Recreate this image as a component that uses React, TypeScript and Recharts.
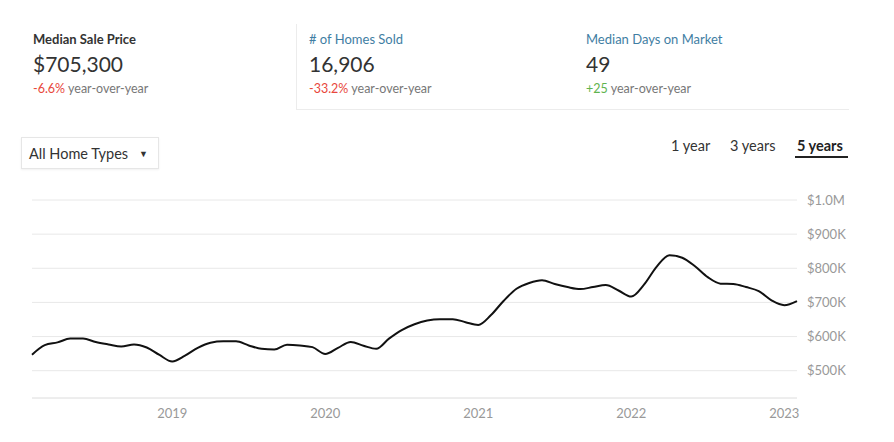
import React from "react";
import {
  LineChart,
  Line,
  XAxis,
  YAxis,
  CartesianGrid,
} from "recharts";

// monthly median sale price, Feb 2018 .. Feb 2023 (in $K)
const months = [
  "2018-02", "2018-03", "2018-04", "2018-05", "2018-06", "2018-07", "2018-08", "2018-09", "2018-10", "2018-11", "2018-12",
  "2019-01", "2019-02", "2019-03", "2019-04", "2019-05", "2019-06", "2019-07", "2019-08", "2019-09", "2019-10", "2019-11", "2019-12",
  "2020-01", "2020-02", "2020-03", "2020-04", "2020-05", "2020-06", "2020-07", "2020-08", "2020-09", "2020-10", "2020-11", "2020-12",
  "2021-01", "2021-02", "2021-03", "2021-04", "2021-05", "2021-06", "2021-07", "2021-08", "2021-09", "2021-10", "2021-11", "2021-12",
  "2022-01", "2022-02", "2022-03", "2022-04", "2022-05", "2022-06", "2022-07", "2022-08", "2022-09", "2022-10", "2022-11", "2022-12",
  "2023-01", "2023-02",
];

const medianPriceK = [
  547, 575, 583, 594, 594, 584, 577, 571, 577, 568, 546,
  527, 544, 567, 582, 586, 586, 574, 564, 562, 576, 574, 569,
  549, 567, 584, 573, 564, 594, 619, 636, 647, 651, 651, 642,
  634, 663, 705, 740, 757, 765, 754, 745, 739, 745, 751, 735,
  717, 752, 805, 838, 831, 806, 774, 755, 754, 745, 733, 706,
  692, 704,
];

const yearLabels = ["2019", "2020", "2021", "2022", "2023"];
const priceTicks = [500000, 600000, 700000, 800000, 900000, 1000000];

const chartData = months.map((m, i) => ({
  t: i,
  month: m,
  price: medianPriceK[i] * 1000,
}));

const yearTickIdx = yearLabels.map((y) => months.indexOf(`${y}-01`));

const fmtPrice = (v: number) =>
  v >= 1000000 ? `$${(v / 1000000).toFixed(1)}M` : `$${v / 1000}K`;

const fmtYear = (v: number) => months[v]?.slice(0, 4) ?? "";

const FONT = "Lato, 'Open Sans', sans-serif";
const RED = "#e8473c";
const BLUE = "#3f7ea3";
const GREEN = "#5fb44f";

function Stat({
  x,
  title,
  titleColor,
  titleWeight,
  value,
  change,
  changeColor,
}: {
  x: number;
  title: string;
  titleColor: string;
  titleWeight: number;
  value: string;
  change: string;
  changeColor: string;
}) {
  return (
    <div style={{ position: "absolute", left: x, top: 30 }}>
      <div style={{ fontSize: 13, color: titleColor, fontWeight: titleWeight, lineHeight: "18px" }}>
        {title}
      </div>
      <div style={{ fontSize: 21, color: "#333", marginTop: 3, lineHeight: "26px" }}>{value}</div>
      <div style={{ fontSize: 12.5, color: "#777", marginTop: 4, lineHeight: "16px" }}>
        <span style={{ color: changeColor }}>{change}</span> year-over-year
      </div>
    </div>
  );
}

export default function App() {
  return (
    <div
      style={{
        position: "absolute",
        left: 0,
        top: 0,
        width: 894,
        height: 442,
        background: "#fff",
        fontFamily: FONT,
        overflow: "hidden",
      }}
    >
      {/* box around the 2nd and 3rd stats */}
      <div
        style={{
          position: "absolute",
          left: 296,
          top: 24,
          width: 552,
          height: 85,
          borderLeft: "1px solid #ececec",
          borderBottom: "1px solid #ececec",
        }}
      />
      <Stat x={33} title="Median Sale Price" titleColor="#333" titleWeight={700} value="$705,300" change="-6.6%" changeColor={RED} />
      <Stat x={309} title="# of Homes Sold" titleColor={BLUE} titleWeight={400} value="16,906" change="-33.2%" changeColor={RED} />
      <Stat x={586} title="Median Days on Market" titleColor={BLUE} titleWeight={400} value="49" change="+25" changeColor={GREEN} />

      {/* home type dropdown */}
      <div
        style={{
          position: "absolute",
          left: 21,
          top: 137,
          width: 138,
          height: 32,
          border: "1px solid #e6e6e6",
          boxShadow: "0 1px 2px rgba(0,0,0,0.06)",
          boxSizing: "border-box",
          fontSize: 14.5,
          color: "#333",
          lineHeight: "31px",
          paddingLeft: 7,
        }}
      >
        All Home Types
        <span style={{ position: "absolute", left: 117, top: 0, fontSize: 9, color: "#333" }}>▼</span>
      </div>

      {/* period tabs */}
      <div style={{ position: "absolute", left: 671, top: 137, fontSize: 14.5, color: "#333" }}>1 year</div>
      <div style={{ position: "absolute", left: 730, top: 137, fontSize: 14.5, color: "#333" }}>3 years</div>
      <div style={{ position: "absolute", left: 797, top: 137, fontSize: 14.5, color: "#222", fontWeight: 700 }}>5 years</div>
      <div style={{ position: "absolute", left: 795, top: 156, width: 53, height: 2, background: "#222" }} />

      <div style={{ position: "absolute", left: 0, top: 180 }}>
        <LineChart
          width={894}
          height={262}
          data={chartData}
          margin={{ top: 20, right: 37, bottom: 0, left: 32 }}
        >
          <CartesianGrid vertical={false} stroke="#e8e8e8" />
          <XAxis
            dataKey="t"
            type="number"
            domain={[0, 60]}
            ticks={yearTickIdx}
            tickFormatter={fmtYear}
            axisLine={{ stroke: "#e8e8e8" }}
            tickLine={false}
            tickSize={0}
            tickMargin={11}
            height={44}
            tick={{ fontSize: 13, fill: "#999", fontFamily: FONT }}
          />
          <YAxis
            orientation="right"
            domain={[420000, 1000000]}
            ticks={priceTicks}
            tickFormatter={fmtPrice}
            axisLine={false}
            tickLine={false}
            tickSize={0}
            tickMargin={10}
            width={60}
            tick={{ fontSize: 13, fill: "#999", fontFamily: FONT, textAnchor: "start" }}
          />
          <Line
            dataKey="price"
            type="monotone"
            stroke="#111"
            strokeWidth={2}
            dot={false}
            isAnimationActive={false}
          />
        </LineChart>
      </div>
    </div>
  );
}
